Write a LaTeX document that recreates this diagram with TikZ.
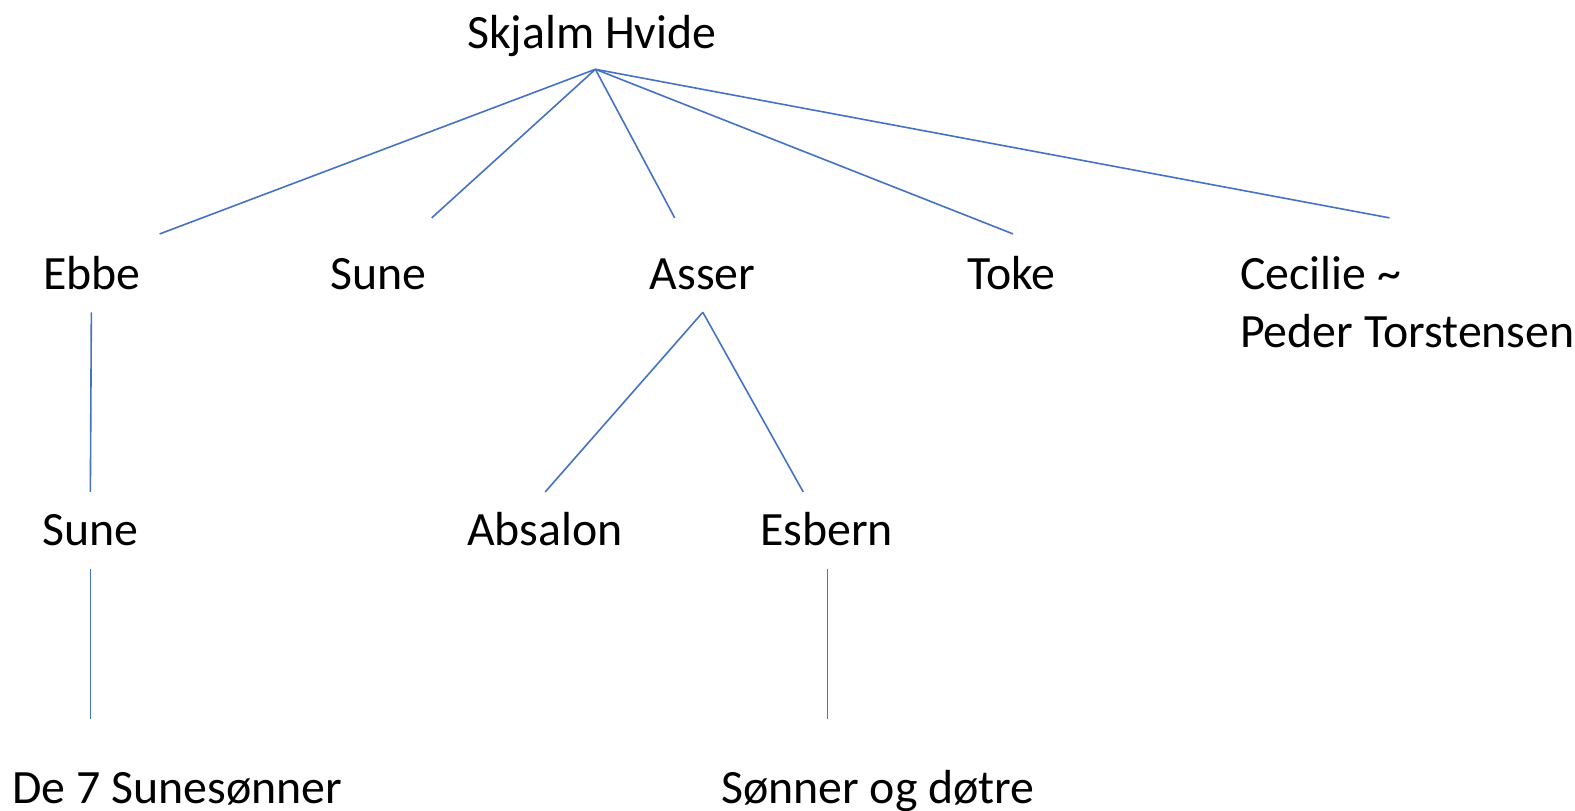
\documentclass[tikz,border=0pt]{standalone}
\usepackage{fontspec}
\setmainfont{Carlito}
\definecolor{lineblue}{HTML}{4472C4}
\tikzset{
  lbl/.style={anchor=base west, inner sep=0pt, font=\fontsize{48}{56}\selectfont, text=black},
  link/.style={draw=lineblue, line width=1.6bp}
}
\begin{document}
\begin{tikzpicture}[x=1.004bp,y=-1.004bp]
\useasboundingbox (0,0) rectangle (1568.7,806.8);
% labels
\node[lbl] (skjalm) at (465,48) {Skjalm Hvide};
\node[lbl] (ebbe) at (43,288) {Ebbe};
\node[lbl] (sune1) at (329,288) {Sune};
\node[lbl] (asser) at (647,288) {Asser};
\node[lbl] (toke) at (963,288) {Toke};
\node[lbl] (cecilie) at (1235,288) {Cecilie \textasciitilde};
\node[lbl] (peder) at (1235,346) {Peder Torstensen};
\node[lbl] (sune2) at (42,543) {Sune};
\node[lbl] (absalon) at (465,543) {Absalon};
\node[lbl] (esbern) at (757,543) {Esbern};
\node[lbl] (sunes) at (12,800) {De 7 Sunesønner};
\node[lbl] (sonner) at (718,800) {Sønner og døtre};
% connector end points
\coordinate (skjalmB) at (593,69);
\coordinate (ebbeT) at (159,233);
\coordinate (sune1T) at (430,217);
\coordinate (asserT) at (672,217);
\coordinate (tokeT) at (1009,233);
\coordinate (cecilieT) at (1384,217);
\coordinate (ebbeB) at (91,311);
\coordinate (sune2T) at (90,490);
\coordinate (asserB) at (700,311);
\coordinate (absalonT) at (543,490);
\coordinate (esbernT) at (800,490);
\coordinate (sune2B) at (90,567);
\coordinate (sunesT) at (90,716);
\coordinate (esbernB) at (824,567);
\coordinate (sonnerT) at (824,716);
% connectors
\draw[link] (skjalmB) -- (ebbeT);
\draw[link] (skjalmB) -- (sune1T);
\draw[link] (skjalmB) -- (asserT);
\draw[link] (skjalmB) -- (tokeT);
\draw[link] (skjalmB) -- (cecilieT);
\draw[link] (ebbeB) -- (sune2T);
\draw[link] (asserB) -- (absalonT);
\draw[link] (asserB) -- (esbernT);
\draw[link] (sune2B) -- (sunesT);
\draw[link] (esbernB) -- (sonnerT);
\end{tikzpicture}
\end{document}
